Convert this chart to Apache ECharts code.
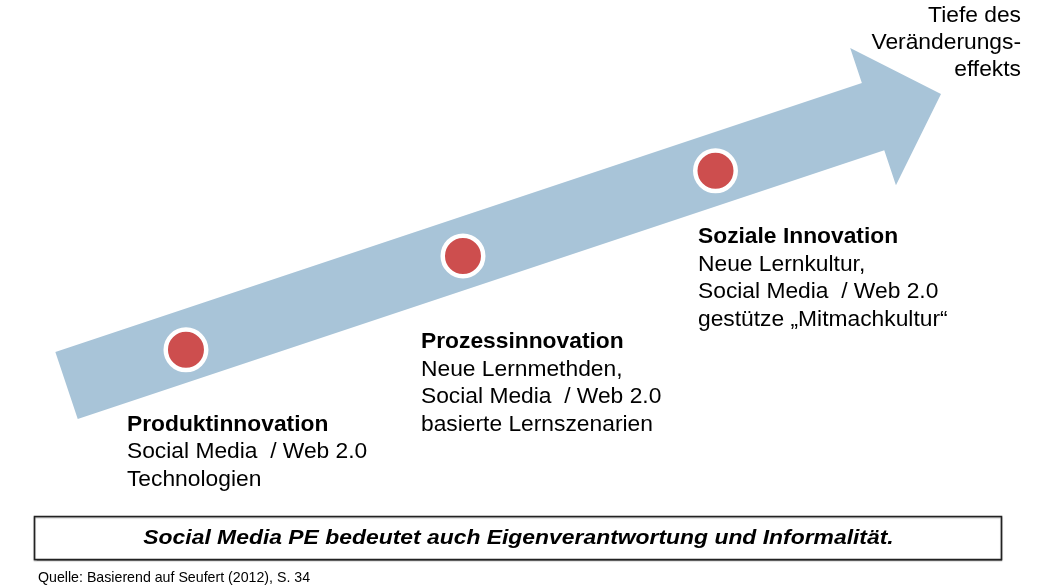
<!DOCTYPE html>
<html><head><meta charset="utf-8">
<script src="https://cdn.jsdelivr.net/npm/echarts@6.0.0/dist/echarts.min.js"></script>
<style>html,body{margin:0;padding:0;background:#fff}#c{width:1043px;height:587px}</style>
</head><body><div id="c"></div>
<script>
// ---- data ----
const stages = ['Produktinnovation', 'Prozessinnovation', 'Soziale Innovation'];
const stageLines = [
  ['Social Media  / Web 2.0', 'Technologien'],
  ['Neue Lernmethden,', 'Social Media  / Web 2.0', 'basierte Lernszenarien'],
  ['Neue Lernkultur,', 'Social Media  / Web 2.0', 'gestütze „Mitmachkultur“']
];
const progress = [1.783, 4.439, 6.860];   // position along development (x)
const depth = [4.04, 5.64, 7.09];         // depth of change effect (y)
const arrowStart = [0.638, 3.433];
const arrowEnd = [9.022, 8.399];
const axisTitle = ['Tiefe des', 'Veränderungs-', 'effekts'];
const statement = 'Social Media PE bedeutet auch Eigenverantwortung und Informalität.';
const source = 'Quelle: Basierend auf Seufert (2012), S. 34';

// ---- layout (pixels) ----
const labelOffsets = [[-59, 61], [-42, 72.5], [-17.5, 52.5]];
const FONT = "'Liberation Sans', Arial, sans-serif";
const FS = 22.8;

const chart = echarts.init(document.getElementById('c'), null, {renderer: 'canvas'});

const scatterData = stages.map((s, i) => ({
  value: [progress[i], depth[i]],
  name: s,
  label: {
    offset: labelOffsets[i],
    formatter: '{b|' + s + '}\n' + stageLines[i].map(l => '{n|' + l + '}').join('\n')
  }
}));

const option = {
  animation: false,
  backgroundColor: '#ffffff',
  grid: {left: 0, right: 0, top: 0, bottom: 0},
  xAxis: {type: 'value', min: 0, max: 10, show: false},
  yAxis: {type: 'value', min: 0, max: 10, show: false},
  series: [
    {
      type: 'custom',
      silent: true,
      z: 1,
      data: [[arrowStart[0], arrowStart[1], arrowEnd[0], arrowEnd[1]]],
      renderItem: function (params, api) {
        const p0 = api.coord([api.value(0), api.value(1)]);
        const p1 = api.coord([api.value(2), api.value(3)]);
        const dx = p1[0] - p0[0], dy = p1[1] - p0[1];
        const len = Math.sqrt(dx * dx + dy * dy);
        const u = [dx / len, dy / len];
        const n = [-u[1], u[0]];
        const s = 35.4, h = 72.3, L = 71.6;
        const b = [p1[0] - u[0] * L, p1[1] - u[1] * L];
        const pt = (base, k) => [base[0] + n[0] * k, base[1] + n[1] * k];
        return {
          type: 'polygon',
          shape: {points: [pt(p0, -s), pt(b, -s), pt(b, -h), p1, pt(b, h), pt(b, s), pt(p0, s)]},
          style: {fill: '#a8c4d8'}
        };
      }
    },
    {
      type: 'scatter',
      z: 3,
      symbol: 'circle',
      symbolSize: 40.5,
      itemStyle: {color: '#cd4e4e', borderColor: '#ffffff', borderWidth: 4.5, opacity: 1},
      label: {
        show: true,
        position: 'inside',
        align: 'left',
        verticalAlign: 'top',
        rich: {
          b: {fontFamily: FONT, fontSize: FS, fontWeight: 'bold', color: '#000', lineHeight: 27.5},
          n: {fontFamily: FONT, fontSize: FS, color: '#000', lineHeight: 27.5}
        }
      },
      emphasis: {disabled: true},
      data: scatterData
    }
  ],
  graphic: [
    {
      type: 'text', x: 1021, y: 2, silent: true,
      style: {text: axisTitle.join('\n'), font: FS + 'px ' + FONT, fill: '#000', align: 'right', verticalAlign: 'top', lineHeight: 27}
    },
    {
      type: 'rect', silent: true,
      shape: {x: 34.5, y: 516.5, width: 967, height: 43},
      style: {fill: '#fff', stroke: '#222', lineWidth: 1.6, shadowColor: 'rgba(0,0,0,0.35)', shadowOffsetX: 0, shadowOffsetY: 1, shadowBlur: 1}
    },
    {
      type: 'text', x: 518.5, y: 538.5, silent: true, scaleX: 1.09,
      style: {text: statement, font: 'italic bold 21px ' + FONT, fill: '#000', align: 'center', verticalAlign: 'middle'}
    },
    {
      type: 'text', x: 38, y: 578.5, silent: true,
      style: {text: source, font: '14.2px ' + FONT, fill: '#000', align: 'left', verticalAlign: 'middle'}
    }
  ]
};
chart.setOption(option);
</script>
</body></html>
